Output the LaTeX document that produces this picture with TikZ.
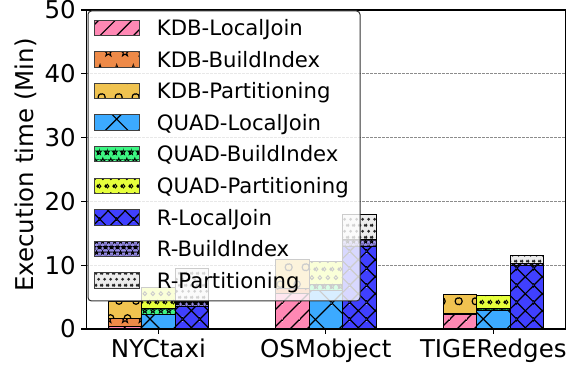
\documentclass[tikz,border=0pt]{standalone}
\usepackage{fontspec}
\setmainfont{DejaVu Sans}
\usetikzlibrary{patterns.meta}

% series colours
\definecolor{kdbljcol}{RGB}{255,136,180}
\definecolor{kdbbicol}{RGB}{238,138,72}
\definecolor{kdbpcol}{RGB}{240,195,80}
\definecolor{quadljcol}{RGB}{60,170,255}
\definecolor{quadbicol}{RGB}{60,245,130}
\definecolor{quadpcol}{RGB}{230,255,60}
\definecolor{rljcol}{RGB}{64,64,255}
\definecolor{rbicol}{RGB}{150,140,230}
\definecolor{rpcol}{RGB}{236,236,236}

% ---- hatch building blocks (all lengths in pt) ----
\newcommand\hatchdiag[1]{%
  \draw[x=1pt,y=1pt,line width=1.2pt,black]
    ({-#1},{-#1}) -- ({2*#1},{2*#1})
    ({-#1},0) -- ({#1},{2*#1})
    (0,{-#1}) -- ({2*#1},{#1});}
\newcommand\hatchanti[1]{%
  \draw[x=1pt,y=1pt,line width=1.2pt,black]
    ({-#1},{#1}) -- ({#1},{-#1})
    ({-#1},{2*#1}) -- ({2*#1},{-#1})
    (0,{2*#1}) -- ({2*#1},0);}
\newcommand\starmark[4]{%
  \draw[x=1pt,y=1pt,shift={({#1},{#2})},line width=#4,black,line join=miter]
    (90:#3) -- (126:{0.4*#3}) -- (162:#3) -- (198:{0.4*#3}) -- (234:#3)
    -- (270:{0.4*#3}) -- (306:#3) -- (342:{0.4*#3}) -- (18:#3)
    -- (54:{0.4*#3}) -- cycle;}
% staggered lattice: corners and centre of a (w x 2h) tile
\newcommand\stagger[3]{#3{0}{0}#3{#1}{0}#3{0}{2*#2}#3{#1}{2*#2}#3{0.5*#1}{#2}}
\newcommand\kdbstarmk[2]{\starmark{#1}{#2}{4.3}{1pt}}
\newcommand\quadstarmk[2]{\starmark{#1}{#2}{2.7}{0.9pt}}
\newcommand\rstarmk[2]{\starmark{#1}{#2}{2.0}{0.8pt}}
\newcommand\bigringmk[2]{\draw[x=1pt,y=1pt,line width=1.2pt,black] ({#1},{#2}) circle[radius=3.3pt];}
\newcommand\smallringmk[2]{\draw[x=1pt,y=1pt,line width=1.0pt,black] ({#1},{#2}) circle[radius=1.9pt];}
\newcommand\dotmk[2]{\fill[x=1pt,y=1pt,black!85] ({#1},{#2}) circle[radius=1.65pt];}

\tikzdeclarepattern{name=slashhatch, type=colored,
  bounding box={(0pt,0pt) and (16.67pt,16.67pt)}, tile size={(16.67pt,16.67pt)},
  code={\hatchdiag{16.67}}}
\tikzdeclarepattern{name=crosssparse, type=colored,
  bounding box={(0pt,0pt) and (33.33pt,33.33pt)}, tile size={(33.33pt,33.33pt)},
  code={\hatchdiag{33.33}\hatchanti{33.33}}}
\tikzdeclarepattern{name=crossdense, type=colored,
  bounding box={(0pt,0pt) and (16.67pt,16.67pt)}, tile size={(16.67pt,16.67pt)},
  code={\hatchdiag{16.67}\hatchanti{16.67}}}
\tikzdeclarepattern{name=starsbig, type=colored,
  bounding box={(0pt,0pt) and (16.67pt,33.33pt)}, tile size={(16.67pt,33.33pt)},
  code={\stagger{16.67}{16.67}\kdbstarmk}}
\tikzdeclarepattern{name=starsmid, type=colored,
  bounding box={(0pt,0pt) and (8.33pt,16.67pt)}, tile size={(8.33pt,16.67pt)},
  code={\stagger{8.33}{8.33}\quadstarmk}}
\tikzdeclarepattern{name=starssmall, type=colored,
  bounding box={(0pt,0pt) and (5.56pt,11.11pt)}, tile size={(5.56pt,11.11pt)},
  code={\stagger{5.56}{5.56}\rstarmk}}
\tikzdeclarepattern{name=ringsbig, type=colored,
  bounding box={(0pt,0pt) and (17pt,34pt)}, tile size={(17pt,34pt)},
  code={\stagger{17}{17}\bigringmk}}
\tikzdeclarepattern{name=ringssmall, type=colored,
  bounding box={(0pt,0pt) and (8.33pt,16.67pt)}, tile size={(8.33pt,16.67pt)},
  code={\stagger{8.33}{8.33}\smallringmk}}
\tikzdeclarepattern{name=dotsfill, type=colored,
  bounding box={(0pt,0pt) and (6pt,12pt)}, tile size={(6pt,12pt)},
  code={\stagger{6}{6}\dotmk}}

\tikzset{
  kdblj/.style={preaction={fill=kdbljcol}, preaction={pattern=slashhatch}},
  kdbbi/.style={preaction={fill=kdbbicol}, preaction={pattern=starsbig}},
  kdbp/.style={preaction={fill=kdbpcol}, preaction={pattern=ringsbig}},
  quadlj/.style={preaction={fill=quadljcol}, preaction={pattern=crosssparse}},
  quadbi/.style={preaction={fill=quadbicol}, preaction={pattern=starsmid}},
  quadp/.style={preaction={fill=quadpcol}, preaction={pattern=ringssmall}},
  rlj/.style={preaction={fill=rljcol}, preaction={pattern=crossdense}},
  rbi/.style={preaction={fill=rbicol}, preaction={pattern=starssmall}},
  rp/.style={preaction={fill=rpcol}, preaction={pattern=dotsfill}},
  barline/.style={draw=black, line width=1pt},
  handleline/.style={draw=black!75, line width=0.9pt},
  axisline/.style={draw=black, line width=1.1pt},
  gridline/.style={draw=black!45, line width=0.7pt, dash pattern=on 2.6pt off 1.4pt},
  ticklab/.style={font=\fontsize{24.5}{29}\selectfont, inner sep=0pt},
  legtext/.style={font=\fontsize{21.2}{25}\selectfont, inner sep=0pt, anchor=base west},
}

% one stacked bar segment: style, left edge, bottom, top
\newcommand\bseg[4]{\draw[barline,#1] (#2,#3) rectangle ({#2+0.2},#4);}

\begin{document}
\begin{tikzpicture}
\useasboundingbox (0,0) rectangle (566pt,369pt);

\begin{scope}[x=167.5pt, y=6.38pt, shift={(158.3pt,40pt)}]
  % horizontal grid
  \foreach \v in {10,20,30,40}
    \draw[gridline] (-0.43,\v) -- (2.43,\v);

  % KDB bars
  \bseg{kdblj}{-0.3}{0}{0.4}   \bseg{kdbbi}{-0.3}{0.4}{1.6}   \bseg{kdbp}{-0.3}{1.6}{4.35}
  \bseg{kdblj}{0.7}{0}{5.5}    \bseg{kdbbi}{0.7}{5.5}{6.3}    \bseg{kdbp}{0.7}{6.3}{10.9}
  \bseg{kdblj}{1.7}{0}{2.2}    \bseg{kdbbi}{1.7}{2.2}{2.45}   \bseg{kdbp}{1.7}{2.45}{5.45}
  % QUAD bars
  \bseg{quadlj}{-0.1}{0}{2.3}  \bseg{quadbi}{-0.1}{2.3}{3.25} \bseg{quadp}{-0.1}{3.25}{6.55}
  \bseg{quadlj}{0.9}{0}{6.0}   \bseg{quadbi}{0.9}{6.0}{6.9}   \bseg{quadp}{0.9}{6.9}{10.55}
  \bseg{quadlj}{1.9}{0}{2.85}  \bseg{quadbi}{1.9}{2.85}{3.15} \bseg{quadp}{1.9}{3.15}{5.2}
  % R bars
  \bseg{rlj}{0.1}{0}{3.5}      \bseg{rbi}{0.1}{3.5}{4.3}      \bseg{rp}{0.1}{4.3}{9.5}
  \bseg{rlj}{1.1}{0}{12.9}     \bseg{rbi}{1.1}{12.9}{13.95}   \bseg{rp}{1.1}{13.95}{18.0}
  \bseg{rlj}{2.1}{0}{10.0}     \bseg{rbi}{2.1}{10.0}{10.3}    \bseg{rp}{2.1}{10.3}{11.45}

  % axes frame and ticks
  \draw[axisline] (-0.43,0) rectangle (2.43,50);
  \foreach \v in {0,10,20,30,40,50} {
    \draw[axisline] (-0.43,\v) -- ++(-5pt,0);
    \node[ticklab, anchor=base east, xshift=-10.3pt, yshift=-8.9pt] (yt\v) at (-0.43,\v) {\v};
  }
  \foreach \g/\lab in {0/NYCtaxi, 1/OSMobject, 2/TIGERedges} {
    \draw[axisline] (\g,0) -- ++(0,-5pt);
    \node[ticklab, anchor=base, yshift=-28.5pt] (xt\g) at (\g,0) {\lab};
  }
\end{scope}

% axis title
\node[ticklab, rotate=90, anchor=base] (ylab) at (33.3pt,204pt) {Execution time (Min)};

% legend
\fill[white, fill opacity=0.8, rounded corners=3.5pt] (88pt,68pt) rectangle (360pt,358pt);
\draw[black!80, line width=1pt, rounded corners=3.5pt] (88pt,68pt) rectangle (360pt,358pt);
\foreach \st/\lab [count=\i from 0] in {kdblj/KDB-LocalJoin, kdbbi/KDB-BuildIndex,
    kdbp/KDB-Partitioning, quadlj/QUAD-LocalJoin, quadbi/QUAD-BuildIndex,
    quadp/QUAD-Partitioning, rlj/R-LocalJoin, rbi/R-BuildIndex, rp/R-Partitioning} {
  \pgfmathsetmacro\yc{341.2-31.6*\i}
  \draw[handleline,\st] (94.3pt,{(\yc-7.75)*1pt}) rectangle (139pt,{(\yc+7.75)*1pt});
  \node[legtext] (leg\i) at (156.7pt,{(\yc-7.8)*1pt}) {\lab};
}
\end{tikzpicture}
\end{document}
